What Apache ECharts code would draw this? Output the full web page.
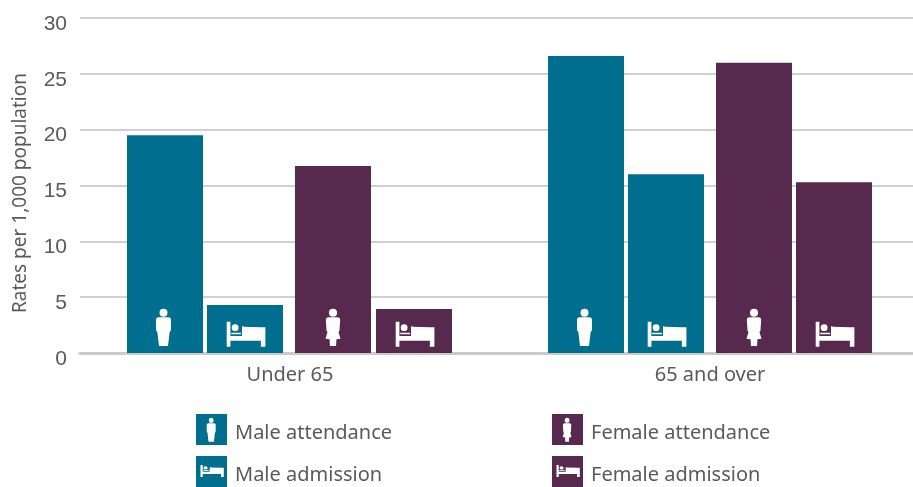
<!DOCTYPE html>
<html><head><meta charset="utf-8">
<style>html,body{margin:0;padding:0;background:#fff}#c{width:913px;height:487px}</style>
<script src="https://cdn.jsdelivr.net/npm/echarts@6/dist/echarts.min.js"></script>
</head><body><div id="c"></div>
<script>
const categories = ["Under 65", "65 and over"];
const maleAttendance = [19.5, 26.6];
const maleAdmission = [4.3, 16.0];
const femaleAttendance = [16.75, 26.0];
const femaleAdmission = [3.95, 15.3];
const yTicks = [0, 5, 10, 15, 20, 25, 30];
const yTitle = 'Rates per 1,000 population';

const TEAL = '#006f8f', PLUM = '#57294f', TEXT = '#5a5a5c', GRID = '#cbcbcb';
const FONT = '"Noto Sans", sans-serif';

const MALE = 'M10.5 12a12 12 0 1 0 24 0a12 12 0 1 0-24 0zM8 26L37 26Q45 26 45 34L45 62Q45 68 41 70L36 112L9 112L4 70Q0 68 0 62L0 34Q0 26 8 26Z';
const FEMALE = 'M10 12a12 12 0 1 0 24 0a12 12 0 1 0-24 0zM9 26L35 26Q43 26 43 34L41 66L38 70L44 90L32 92L31 112L13 112L12 92L0 90L6 70L3 66L1 34Q1 26 9 26Z';
const BED = 'M0 0L3.7 0L3.7 14.3L15.2 14.3L15.2 4.5L16.7 4.5L16.7 5L34 5.5L38.5 5.5L38.5 25L34 25L34 19L3.7 19L3.7 25L0 25ZM5 6a3.4 3.4 0 1 0 6.8 0a3.4 3.4 0 1 0-6.8 0zM4.5 11L14.2 11L14.2 12.6L4.5 12.6Z';

const slots = [
  {name: 'Male attendance', data: maleAttendance, color: TEAL, glyph: MALE, off: [-163, -162], gx: 29, gy: -44.3, gw: 15, gh: 37.3, lg: [10.7, 3.7, 9, 24], pos: [196, 414]},
  {name: 'Male admission', data: maleAdmission, color: TEAL, glyph: BED, off: [-83, -82], gx: 19.7, gy: -31.3, gw: 38.7, gh: 25, lg: [4.5, 9, 23.3, 12], pos: [196, 456]},
  {name: 'Female attendance', data: femaleAttendance, color: PLUM, glyph: FEMALE, off: [5, 6], gx: 30.5, gy: -44.3, gw: 15, gh: 37.3, lg: [10.7, 3.7, 9, 24], pos: [552, 414]},
  {name: 'Female admission', data: femaleAdmission, color: PLUM, glyph: BED, off: [86, 86], gx: 19.7, gy: -31.3, gw: 38.7, gh: 25, lg: [4.5, 9, 23.3, 12], pos: [552, 456]}
];
const BAR_W = 76;

function legendIcon(s) {
  const [x, y, w, h] = s.lg;
  const bw = s.glyph === BED ? 38.5 : 45, bh = s.glyph === BED ? 25 : 112;
  const svg = `<svg xmlns="http://www.w3.org/2000/svg" width="31" height="31" viewBox="0 0 31 31"><rect width="31" height="31" fill="${s.color}"/><path fill="#fff" transform="translate(${x} ${y}) scale(${w / bw} ${h / bh})" d="${s.glyph}"/></svg>`;
  return 'image://data:image/svg+xml;charset=utf-8,' + encodeURIComponent(svg);
}

const chart = echarts.init(document.getElementById('c'), null, {renderer: 'canvas'});
chart.setOption({
  animation: false,
  backgroundColor: '#fff',
  grid: {left: 80, width: 840, top: 18, height: 335, outerBoundsMode: 'none', containLabel: false},
  xAxis: {
    type: 'category', data: categories,
    axisTick: {show: false},
    axisLine: {lineStyle: {color: GRID, width: 3}},
    axisLabel: {color: TEXT, fontFamily: FONT, fontSize: 20, margin: 12}
  },
  yAxis: {
    type: 'value', min: yTicks[0], max: yTicks[yTicks.length - 1], interval: 5,
    axisLine: {show: false}, axisTick: {show: false},
    axisLabel: {
      margin: 13,
      formatter: v => '{t|' + v + '}',
      rich: {t: {color: TEXT, fontFamily: '"Liberation Sans", sans-serif', fontSize: 21, padding: [12, 0, 0, 0]}}
    },
    splitLine: {lineStyle: {color: '#d0d0d0', width: 2}}
  },
  graphic: [{
    type: 'text', x: 21, y: 193, rotation: Math.PI / 2,
    style: {text: yTitle, fill: TEXT, font: '19px ' + FONT, align: 'center', verticalAlign: 'middle'}
  }],
  legend: slots.map(s => ({
    left: s.pos[0], top: s.pos[1], padding: 0, selectedMode: false,
    itemWidth: 31, itemHeight: 31, itemGap: 0,
    formatter: n => '{t|' + n + '}',
    textStyle: {rich: {t: {color: TEXT, fontFamily: FONT, fontSize: 20, padding: [7, 0, 0, 3]}}},
    data: [{name: s.name, icon: legendIcon(s)}]
  })),
  series: slots.map(s => ({
    type: 'custom', name: s.name,
    coordinateSystem: 'cartesian2d',
    encode: {x: 0, y: 1},
    clip: false,
    itemStyle: {color: s.color},
    data: s.data.map((v, i) => [i, v]),
    renderItem(params, api) {
      const c = api.value(0);
      const top = api.coord([c, api.value(1)]);
      const base = api.coord([c, 0]);
      const left = top[0] + s.off[c];
      return {type: 'group', children: [
        {type: 'rect', shape: {x: left, y: top[1], width: BAR_W, height: base[1] - top[1]}, style: {fill: s.color}},
        {type: 'path', shape: {pathData: s.glyph, x: left + s.gx, y: base[1] + s.gy, width: s.gw, height: s.gh, layout: 'cover'}, style: {fill: '#fff'}}
      ]};
    }
  }))
});
</script></body></html>
